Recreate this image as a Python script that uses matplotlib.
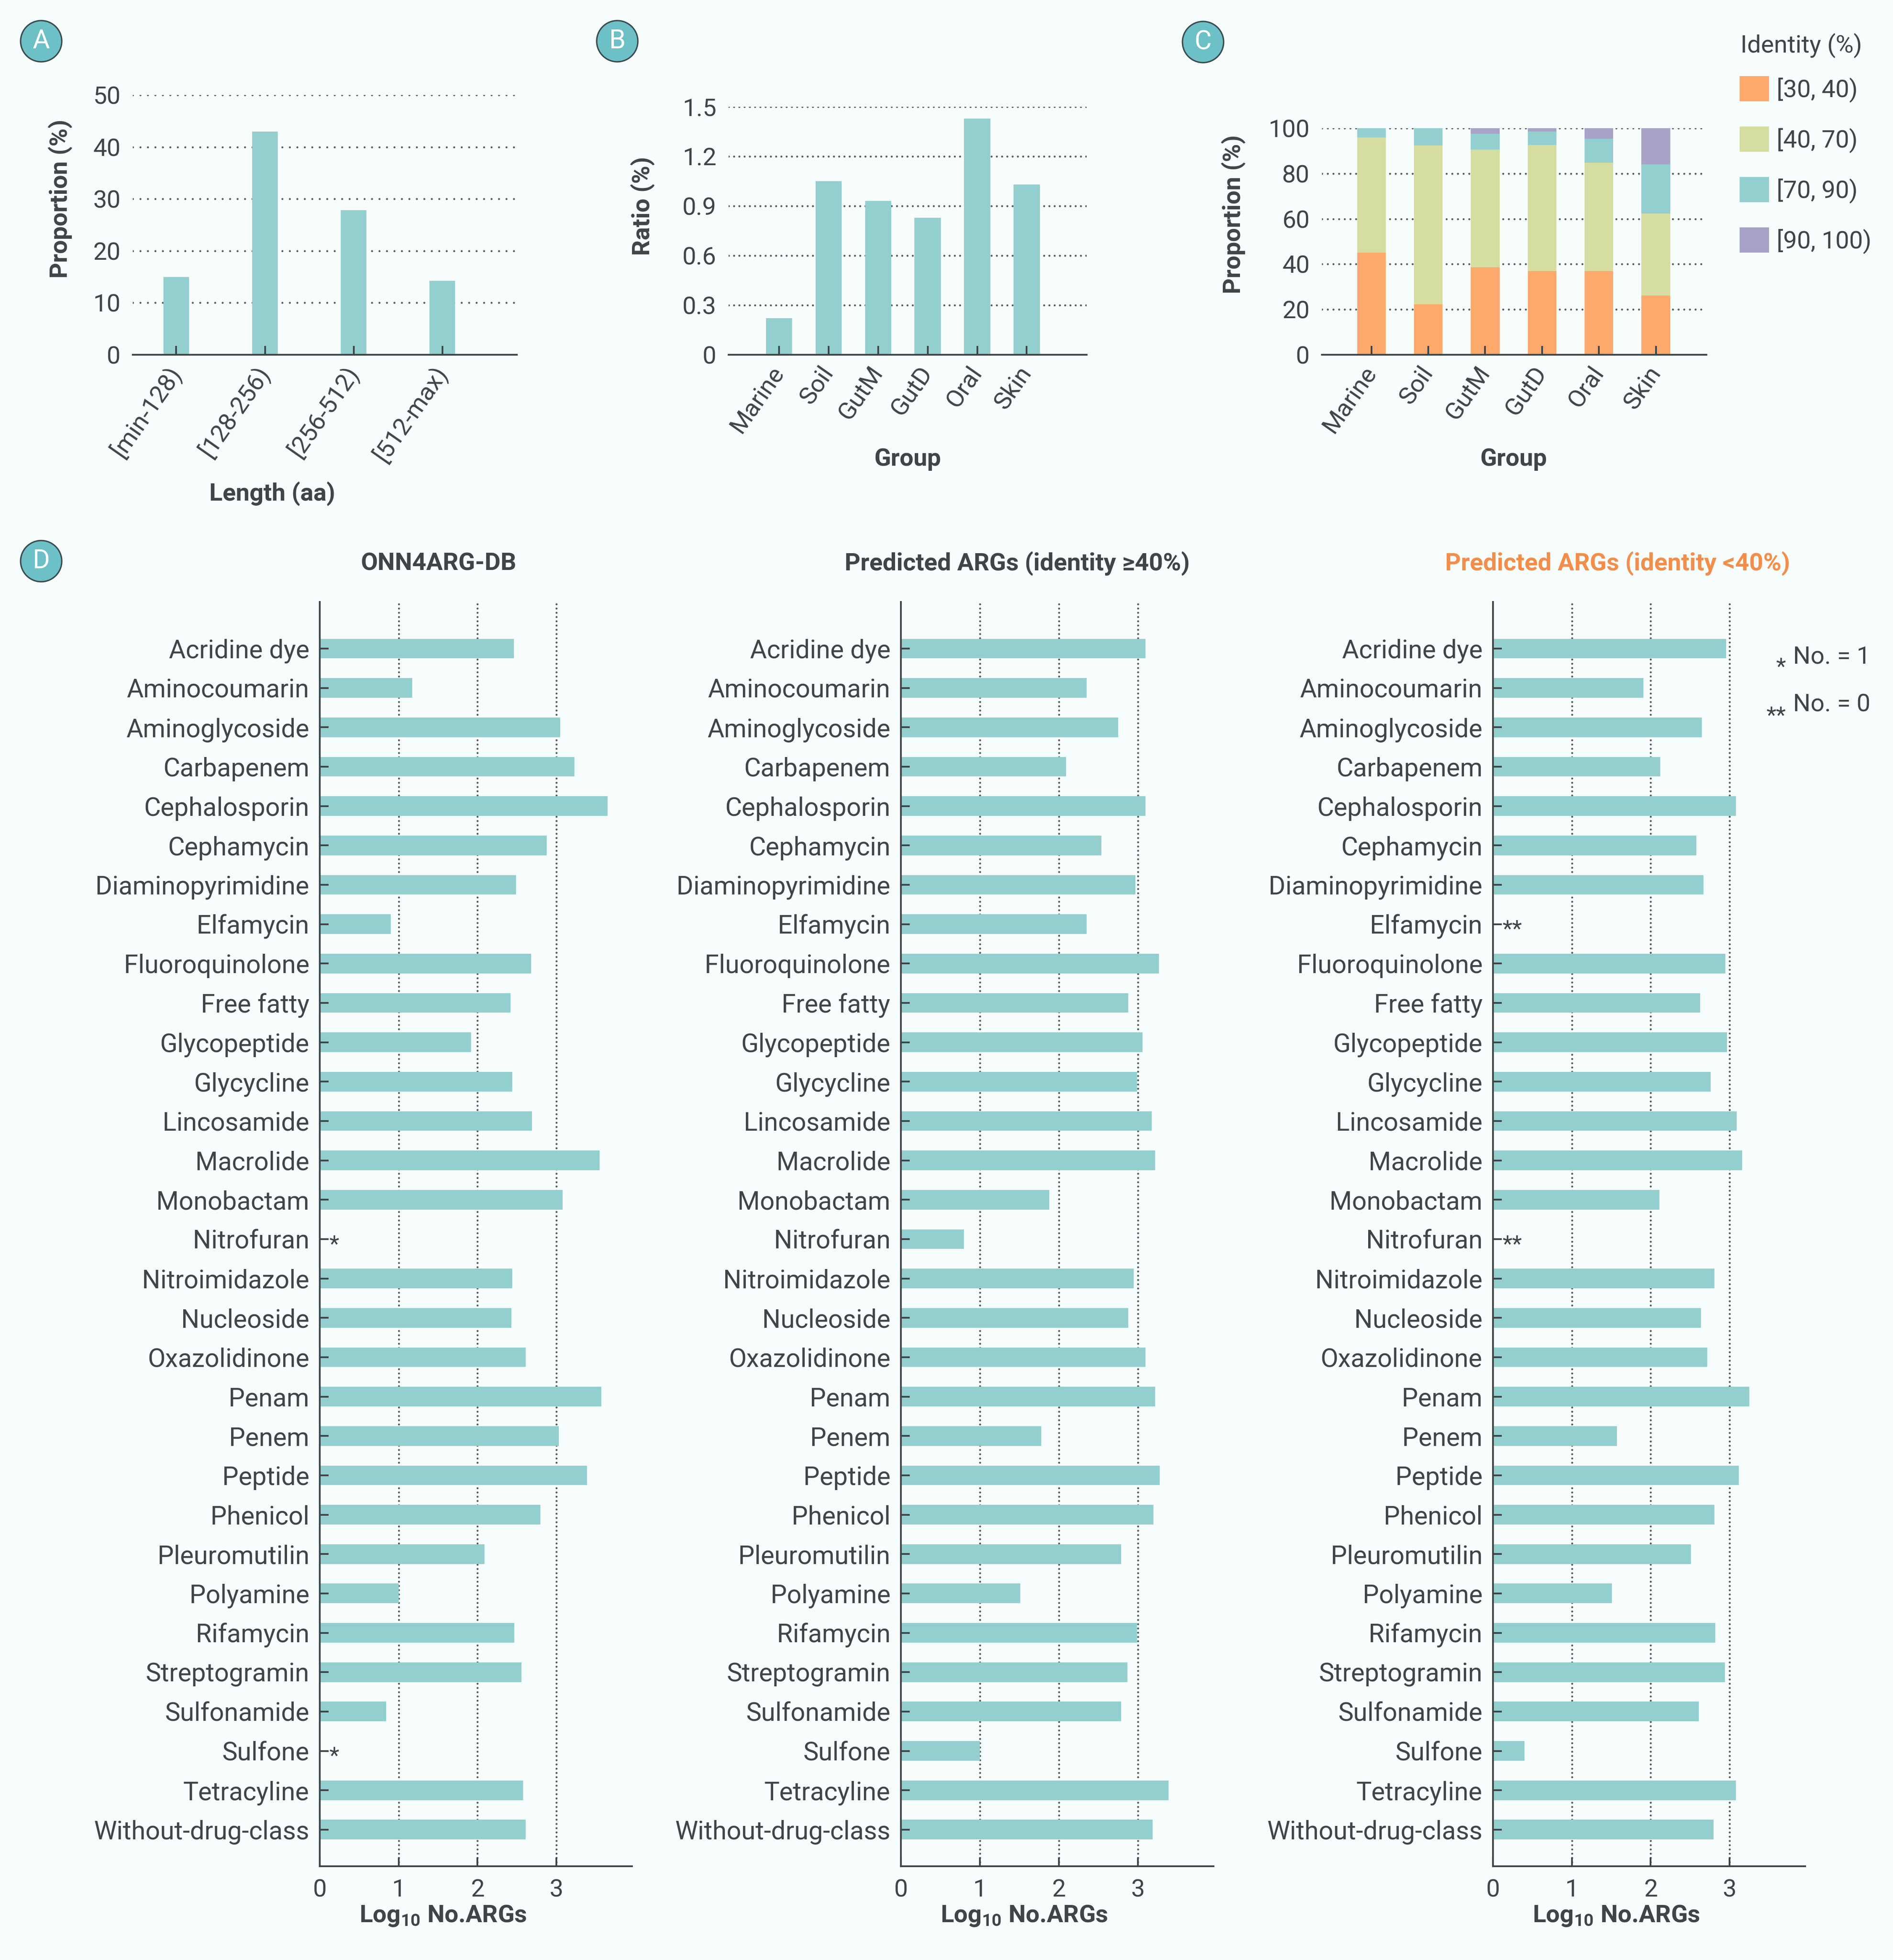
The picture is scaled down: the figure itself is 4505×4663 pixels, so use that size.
import matplotlib.pyplot as plt
from matplotlib.patches import Ellipse, Patch

plt.rcParams['font.family'] = ['Roboto', 'DejaVu Sans']
plt.rcParams['mathtext.default'] = 'regular'

W, H = 4505, 4663
bg = '#F6FDFC'
ink = '#3F4447'
grid_c = '#55595C'
teal = '#94CFD0'
id_colors = ['#FDA96E', '#D6DDA0', '#94CFD0', '#A8A2C9']

# panel A
length_bins = ['[min-128)', '[128-256)', '[256-512)', '[512-max)']
length_prop = [15.0, 43.0, 27.8, 14.2]

# panel B / C
groups = ['Marine', 'Soil', 'GutM', 'GutD', 'Oral', 'Skin']
ratio = [0.22, 1.05, 0.93, 0.83, 1.43, 1.03]

identity_bins = ['[30, 40)', '[40, 70)', '[70, 90)', '[90, 100)']
id_30_40 = [45.0, 22.2, 38.5, 37.0, 37.0, 26.1]
id_40_70 = [50.9, 70.2, 52.0, 55.6, 47.7, 36.3]
id_70_90 = [4.1, 7.6, 7.1, 5.9, 10.7, 21.7]
id_90_100 = [0.0, 0.0, 2.4, 1.5, 4.6, 15.9]

# panel D
drug_classes = ['Acridine dye', 'Aminocoumarin', 'Aminoglycoside', 'Carbapenem',
                'Cephalosporin', 'Cephamycin', 'Diaminopyrimidine', 'Elfamycin',
                'Fluoroquinolone', 'Free fatty', 'Glycopeptide', 'Glycycline',
                'Lincosamide', 'Macrolide', 'Monobactam', 'Nitrofuran',
                'Nitroimidazole', 'Nucleoside', 'Oxazolidinone', 'Penam', 'Penem',
                'Peptide', 'Phenicol', 'Pleuromutilin', 'Polyamine', 'Rifamycin',
                'Streptogramin', 'Sulfonamide', 'Sulfone', 'Tetracyline',
                'Without-drug-class']
db_log = [2.46, 1.17, 3.05, 3.23, 3.65, 2.88, 2.49, 0.90, 2.68, 2.42, 1.92, 2.44,
          2.69, 3.55, 3.08, 0.0, 2.44, 2.43, 2.61, 3.57, 3.03, 3.39, 2.80, 2.09,
          1.00, 2.47, 2.56, 0.84, 0.0, 2.58, 2.61]
high_log = [3.10, 2.35, 2.75, 2.09, 3.10, 2.54, 2.97, 2.35, 3.27, 2.88, 3.06, 2.99,
            3.18, 3.22, 1.88, 0.80, 2.95, 2.88, 3.10, 3.22, 1.78, 3.28, 3.20, 2.79,
            1.51, 2.99, 2.87, 2.79, 1.00, 3.39, 3.19]
low_log = [2.96, 1.91, 2.65, 2.12, 3.08, 2.58, 2.67, 0.0, 2.95, 2.63, 2.97, 2.76,
           3.09, 3.16, 2.11, 0.0, 2.81, 2.64, 2.72, 3.25, 1.57, 3.12, 2.81, 2.51,
           1.51, 2.82, 2.94, 2.61, 0.40, 3.08, 2.80]
db_marks = {'Nitrofuran': '*', 'Sulfone': '*'}
high_marks = {}
low_marks = {'Elfamycin': '**', 'Nitrofuran': '**'}


def px_axes(left, right, top, bottom):
    return fig.add_axes([left / W, 1 - bottom / H, (right - left) / W, (bottom - top) / H])


def style_axes(ax, left_spine):
    ax.set_facecolor(bg)
    ax.set_axisbelow(False)
    for s in ['top', 'right']:
        ax.spines[s].set_visible(False)
    ax.spines['left'].set_visible(left_spine)
    for s in ['left', 'bottom']:
        ax.spines[s].set_color(ink)
        ax.spines[s].set_linewidth(1.0)
    ax.tick_params(colors=ink, labelcolor=ink, labelsize=14, direction='in',
                   width=1.0, length=5)


def dotted(gap):
    return dict(ls=(0, (0.01, gap)), dash_capstyle='round', color=grid_c, lw=1.15, zorder=0.5)


def hgrid(ax, ticks, gap):
    for v in ticks:
        ax.axhline(v, **dotted(gap))


fig = plt.figure(figsize=(W / 300, H / 300), dpi=300, facecolor=bg)

# A
axA = px_axes(316, 1230, 226, 844)
style_axes(axA, False)
axA.bar(range(4), length_prop, width=0.29, color=teal, zorder=1)
axA.set_xlim(-0.49, 3.84)
axA.set_ylim(0, 50)
axA.set_yticks(range(0, 51, 10))
hgrid(axA, range(10, 51, 10), 3.7)
axA.set_xticks(range(4))
axA.set_xticklabels(length_bins, rotation=55, ha='right', va='center', rotation_mode='anchor')
axA.tick_params(axis='x', pad=8)
axA.tick_params(axis='y', length=0, pad=7)
fig.text(144 / W, 1 - 473 / H, 'Proportion (%)', rotation=90, ha='center', va='center',
         fontsize=14, fontweight='bold', color=ink)
fig.text(648 / W, 1 - 1175 / H, 'Length (aa)', ha='center', va='center',
         fontsize=14, fontweight='bold', color=ink)

# B
axB = px_axes(1734, 2586, 254, 844)
style_axes(axB, False)
axB.bar(range(6), ratio, width=0.53, color=teal, zorder=1)
axB.set_xlim(-1.02, 6.21)
axB.set_ylim(0, 1.5)
b_ticks = [0, 0.3, 0.6, 0.9, 1.2, 1.5]
axB.set_yticks(b_ticks)
axB.set_yticklabels(['0', '0.3', '0.6', '0.9', '1.2', '1.5'])
hgrid(axB, b_ticks[1:], 2.6)
axB.set_xticks(range(6))
axB.set_xticklabels(groups, rotation=55, ha='right', va='center', rotation_mode='anchor')
axB.tick_params(axis='x', pad=8)
axB.tick_params(axis='y', length=0, pad=7)
fig.text(1530 / W, 1 - 490 / H, 'Ratio (%)', rotation=90, ha='center', va='center',
         fontsize=14, fontweight='bold', color=ink)
fig.text(2160 / W, 1 - 1092 / H, 'Group', ha='center', va='center',
         fontsize=14, fontweight='bold', color=ink)

# C
axC = px_axes(3146, 4061, 305, 844)
style_axes(axC, False)
bottom = [0.0] * 6
handles = []
for seg, col in zip([id_30_40, id_40_70, id_70_90, id_90_100], id_colors):
    axC.bar(range(6), seg, bottom=bottom, width=0.506, color=col, zorder=1)
    bottom = [b + s for b, s in zip(bottom, seg)]
    handles.append(Patch(facecolor=col, edgecolor='none'))
axC.set_xlim(-0.87, 5.89)
axC.set_ylim(0, 100)
axC.set_yticks(range(0, 101, 20))
hgrid(axC, range(20, 101, 20), 2.8)
axC.set_xticks(range(6))
axC.set_xticklabels(groups, rotation=55, ha='right', va='center', rotation_mode='anchor')
axC.tick_params(axis='x', pad=8)
axC.tick_params(axis='y', length=0, pad=7)
fig.text(2936 / W, 1 - 510 / H, 'Proportion (%)', rotation=90, ha='center', va='center',
         fontsize=14, fontweight='bold', color=ink)
fig.text(3602 / W, 1 - 1092 / H, 'Group', ha='center', va='center',
         fontsize=14, fontweight='bold', color=ink)
leg = axC.legend(handles, identity_bins, loc='upper left',
                 bbox_to_anchor=(4140 / W, 1 - 181 / H), bbox_transform=fig.transFigure,
                 frameon=False, fontsize=14, borderpad=0,
                 borderaxespad=0, handlelength=1.2, handleheight=1.2,
                 labelspacing=0.98, handletextpad=0.3)
for t in leg.get_texts():
    t.set_color(ink)
fig.text(4142 / W, 1 - 108 / H, 'Identity (%)', ha='left', va='center', fontsize=14, color=ink)


# D
def draw_arg_panel(left, right, values, marks):
    ax = px_axes(left, right, 1432, 4440)
    style_axes(ax, True)
    rows = list(range(len(drug_classes)))
    ax.barh(rows, values, height=0.5, color=teal, zorder=1)
    for name, m in marks.items():
        ax.text(0.12, drug_classes.index(name) + 0.15, m, ha='left', va='center',
                fontsize=13, color=ink)
    ax.set_ylim(30.93, -1.185)
    ax.set_xlim(0, 3.96)
    ax.set_yticks(rows)
    ax.set_yticklabels(drug_classes, fontsize=14.7)
    ax.set_xticks([0, 1, 2, 3])
    for v in [1, 2, 3]:
        ax.axvline(v, **dotted(2.1))
    ax.tick_params(axis='y', pad=6)
    ax.tick_params(axis='x', pad=7)
    return ax


draw_arg_panel(761, 1504, db_log, db_marks)
draw_arg_panel(2144, 2888, high_log, high_marks)
draw_arg_panel(3553, 4296, low_log, low_marks)

titles = [('ONN4ARG-DB', 1044, ink), ('Predicted ARGs (identity ≥40%)', 2421, ink),
          ('Predicted ARGs (identity <40%)', 3850, '#F28E4B')]
for txt, x, col in titles:
    fig.text(x / W, 1 - 1341 / H, txt, ha='center', va='center', fontsize=14,
             fontweight='bold', color=col)
for x in [1054, 2437, 3846]:
    fig.text(x / W, 1 - 4558 / H, 'Log$_{10}$ No.ARGs', ha='center', va='center',
             fontsize=14, fontweight='bold', color=ink)

fig.text(4250 / W, 1 - 1588 / H, '*', ha='right', va='center', fontsize=13, color=ink)
fig.text(4267 / W, 1 - 1563 / H, 'No. = 1', ha='left', va='center', fontsize=14, color=ink)
fig.text(4250 / W, 1 - 1704 / H, '**', ha='right', va='center', fontsize=13, color=ink)
fig.text(4267 / W, 1 - 1677 / H, 'No. = 0', ha='left', va='center', fontsize=14, color=ink)

for letter, x, y in [('A', 98, 98), ('B', 1469, 98), ('C', 2863, 100), ('D', 98, 1335)]:
    fig.add_artist(Ellipse((x / W, 1 - y / H), 98 / W, 98 / H, transform=fig.transFigure,
                           facecolor='#6CC0C6', edgecolor='#3A4A4C', lw=0.8))
    fig.text(x / W, 1 - y / H, letter, ha='center', va='center', fontsize=15, color='white')

fig.savefig('out.png', dpi=300, facecolor=bg)
